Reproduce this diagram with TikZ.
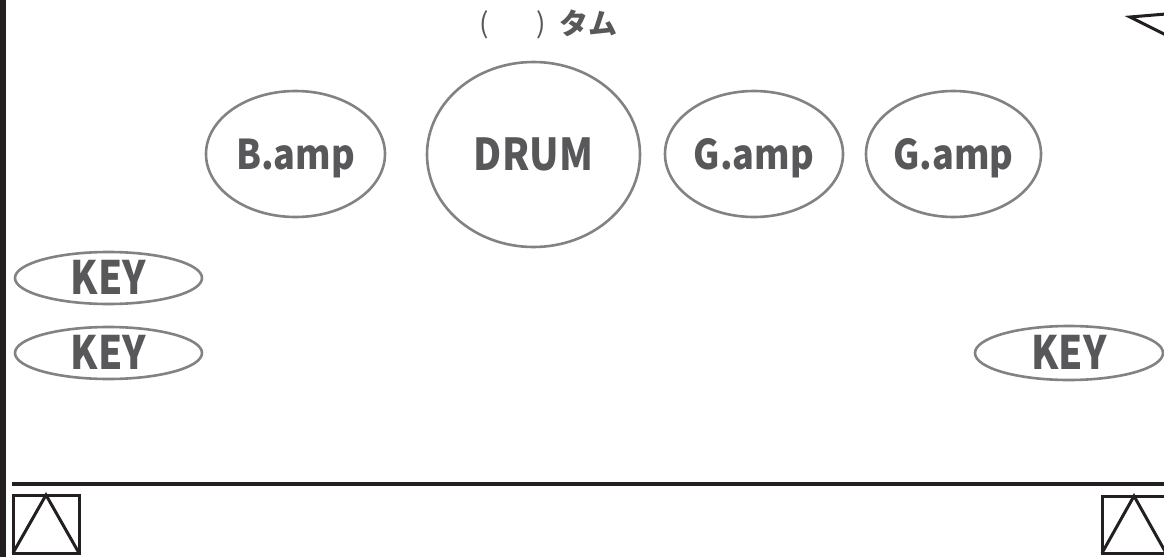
\documentclass[tikz,border=0pt]{standalone}
\usepackage{fontspec}
\usetikzlibrary{shapes.geometric}
\newfontfamily\jpfont{Noto Sans CJK JP}
\newfontfamily\ampfont{Noto Sans CJK JP}[FakeStretch=0.88]
\newfontfamily\keyfont{Noto Sans CJK JP}[FakeStretch=0.84]
\definecolor{ink}{HTML}{231F20}
\definecolor{ring}{HTML}{828285}
\definecolor{txt}{HTML}{58585A}
\tikzset{
  oval/.style={ellipse, draw=ring, line width=2.6pt, inner sep=0pt, text=txt},
  amptext/.style={font=\ampfont\bfseries\fontsize{41}{41}\selectfont, text height=30pt, text depth=0pt},
  keytext/.style={font=\keyfont\bfseries\fontsize{46}{46}\selectfont, text height=33pt, text depth=0pt},
  ttl/.style={text=txt, inner sep=0pt, font=\jpfont\fontsize{28}{28}\selectfont},
  blk/.style={draw=ink, line width=3.2pt},
}
\begin{document}
\begin{tikzpicture}[x=1pt,y=-1pt]
\useasboundingbox (0,0) rectangle (1164,557);
\clip (0,0) rectangle (1164,557);
\fill[ink] (0,0) rectangle (6,557);
% title
\node[ttl] (lp) at (484,25) {(};
\node[ttl] (rp) at (541,25) {)};
\node[ttl, font=\jpfont\bfseries\fontsize{29}{29}\selectfont] (tam) at (588,23) {タム};
% amps and drum
\node[oval, amptext, minimum width=179pt, minimum height=126pt] (bamp) at (295.5,154) {B.amp};
\node[oval, amptext, font=\ampfont\bfseries\fontsize{44}{44}\selectfont, text height=32pt, minimum width=213pt, minimum height=185pt] (drum) at (533.5,154.5) {DRUM};
\node[oval, amptext, minimum width=178pt, minimum height=126pt] (gamp1) at (754,154) {G.amp};
\node[oval, amptext, minimum width=175pt, minimum height=126pt] (gamp2) at (953.5,154) {G.amp};
% keys
\node[oval, keytext, minimum width=187pt, minimum height=52pt] (key1) at (108.5,278) {KEY};
\node[oval, keytext, minimum width=187pt, minimum height=52pt] (key2) at (108.5,353) {KEY};
\node[oval, keytext, minimum width=188pt, minimum height=54pt] (key3) at (1069,353) {KEY};
% stage edge
\coordinate (edgeL) at (12,484);
\coordinate (edgeR) at (1164,484);
\draw[blk] (edgeL) -- (edgeR);
% monitors
\draw[blk, line width=3pt] (13,495) rectangle (79,553);
\draw[blk, line width=3pt, line join=miter] (13,553) -- (46,495) -- (79,553);
\draw[blk, line width=3pt] (1102,496) rectangle (1167,553);
\draw[blk, line width=3pt, line join=miter] (1102,553) -- (1134,496) -- (1166,553);
% top-right wedge
\draw[blk, line width=3pt, line join=miter] (1166,14) -- (1130,17) -- (1166,35);
\end{tikzpicture}
\end{document}
